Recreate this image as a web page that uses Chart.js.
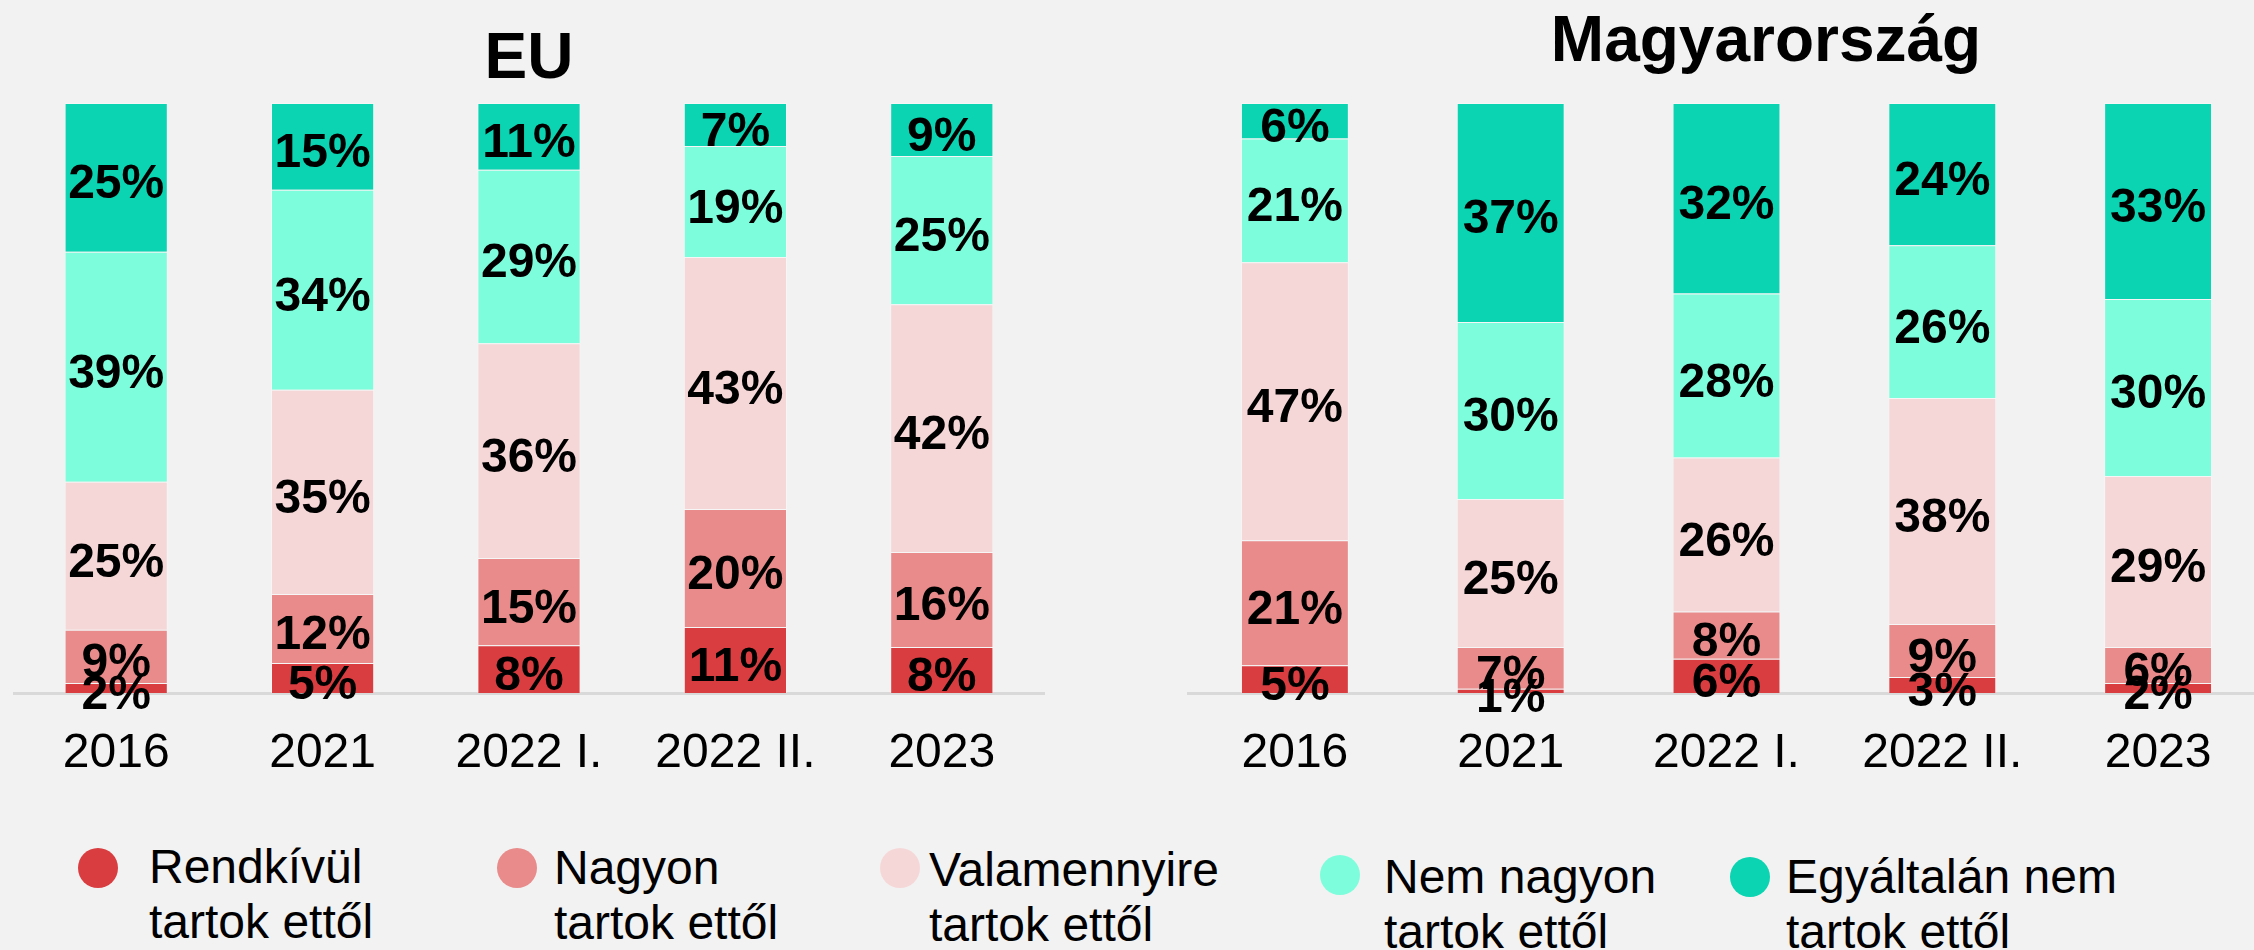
<!DOCTYPE html>
<html>
<head>
<meta charset="utf-8">
<script src="https://cdn.jsdelivr.net/npm/chart.js@4.4.0/dist/chart.umd.min.js"></script>
<style>
  html, body { margin: 0; padding: 0; }
  body { width: 2254px; height: 950px; overflow: hidden; background: #f2f2f2; position: relative;
         font-family: "Liberation Sans", Arial, sans-serif; }
  .title { position: absolute; width: 800px; text-align: center; font-weight: bold; font-size: 64px; line-height: 1; color: #000; }
  .box { position: absolute; top: 103px; height: 710px; }
  .leg { position: absolute; font-size: 48px; line-height: 55px; color: #000; white-space: nowrap; }
  .dot { position: absolute; width: 40px; height: 40px; border-radius: 50%; }
</style>
</head>
<body>
<div class="title" style="left:129px;top:24px">EU</div>
<div class="title" style="left:1366px;top:7px">Magyarország</div>
<div class="box" style="left:13px;width:1032px"><canvas id="euChart"></canvas></div>
<div class="box" style="left:1187px;width:1079px"><canvas id="huChart"></canvas></div>
<div id="legend"></div>
<script>
const periods = ['2016', '2021', '2022 I.', '2022 II.', '2023'];

const seriesNames = [
    ['Rendkívül', 'tartok ettől'],
    ['Nagyon', 'tartok ettől'],
    ['Valamennyire', 'tartok ettől'],
    ['Nem nagyon', 'tartok ettől'],
    ['Egyáltalán nem', 'tartok ettől']
];
const seriesColors = ['#d93d40', '#e88b8a', '#f6d7d8', '#7dfddb', '#0ad4b1'];

// EU, bottom to top
const euRendkivul    = [1.7, 5.1, 8.1, 11.2, 7.8];
const euNagyon       = [9.0, 11.7, 14.8, 20.0, 16.1];
const euValamennyire = [25.1, 34.6, 36.4, 42.7, 42.0];
const euNemNagyon    = [39.0, 33.9, 29.4, 18.8, 25.1];
const euEgyaltalan   = [25.2, 14.7, 11.3, 7.3, 9.0];

// Magyarország, bottom to top
const huRendkivul    = [4.7, 0.7, 5.8, 2.7, 1.7];
const huNagyon       = [21.2, 7.1, 8.0, 9.0, 6.1];
const huValamennyire = [47.1, 25.1, 26.1, 38.3, 29.0];
const huNemNagyon    = [21.0, 30.0, 27.8, 25.9, 30.0];
const huEgyaltalan   = [6.0, 37.1, 32.3, 24.1, 33.2];

const fontFamily = '"Liberation Sans", Arial, sans-serif';
Chart.defaults.font.family = fontFamily;

// percent labels in the middle of each segment
const percentLabels = {
    id: 'percentLabels',
    afterDatasetsDraw(chart) {
        const ctx = chart.ctx;
        ctx.save();
        ctx.font = 'bold 48px ' + fontFamily;
        ctx.fillStyle = '#000';
        ctx.textAlign = 'center';
        ctx.textBaseline = 'alphabetic';
        chart.data.datasets.forEach((ds, i) => {
            chart.getDatasetMeta(i).data.forEach((bar, j) => {
                const mid = (bar.y + bar.base) / 2;
                ctx.fillText(Math.round(ds.data[j]) + '%', bar.x, mid + 21);
            });
        });
        ctx.restore();
    }
};

function makeChart(id, values) {
    const ctx = document.getElementById(id).getContext('2d');
    return new Chart(ctx, {
        type: 'bar',
        data: {
            labels: periods,
            datasets: values.map((vals, i) => ({
                label: seriesNames[i].join(' '),
                data: vals,
                backgroundColor: seriesColors[i],
                borderColor: 'rgba(255, 255, 255, 0.3)',
                borderWidth: 1,
                barPercentage: 0.5,
                categoryPercentage: 1.0
            }))
        },
        options: {
            responsive: true,
            maintainAspectRatio: false,
            animation: false,
            layout: { padding: 0 },
            plugins: {
                legend: { display: false },
                tooltip: { enabled: false }
            },
            scales: {
                x: {
                    stacked: true,
                    grid: { display: false, drawTicks: false },
                    border: { display: true, color: '#d9d9d9', width: 3 },
                    ticks: {
                        color: '#000',
                        padding: 32,
                        maxRotation: 0,
                        autoSkip: false,
                        font: { size: 48 }
                    },
                    afterFit: function(scale) {
                        scale.height = 120;
                    }
                },
                y: {
                    stacked: true,
                    display: false,
                    min: 0,
                    max: 100
                }
            }
        },
        plugins: [percentLabels]
    });
}

makeChart('euChart', [euRendkivul, euNagyon, euValamennyire, euNemNagyon, euEgyaltalan]);
makeChart('huChart', [huRendkivul, huNagyon, huValamennyire, huNemNagyon, huEgyaltalan]);

// legend
const legendSpots = [
    { dotX: 78,   dotY: 848, textX: 149,  textY: 839 },
    { dotX: 497,  dotY: 848, textX: 554,  textY: 840 },
    { dotX: 880,  dotY: 848, textX: 929,  textY: 842 },
    { dotX: 1320, dotY: 855, textX: 1384, textY: 849 },
    { dotX: 1730, dotY: 857, textX: 1786, textY: 849 }
];
const legend = document.getElementById('legend');
seriesNames.forEach((name, i) => {
    const spot = legendSpots[i];
    const dot = document.createElement('div');
    dot.className = 'dot';
    dot.style.left = spot.dotX + 'px';
    dot.style.top = spot.dotY + 'px';
    dot.style.background = seriesColors[i];
    legend.appendChild(dot);
    const txt = document.createElement('div');
    txt.className = 'leg';
    txt.style.left = spot.textX + 'px';
    txt.style.top = spot.textY + 'px';
    txt.innerHTML = name.join('<br>');
    legend.appendChild(txt);
});
</script>
</body>
</html>
